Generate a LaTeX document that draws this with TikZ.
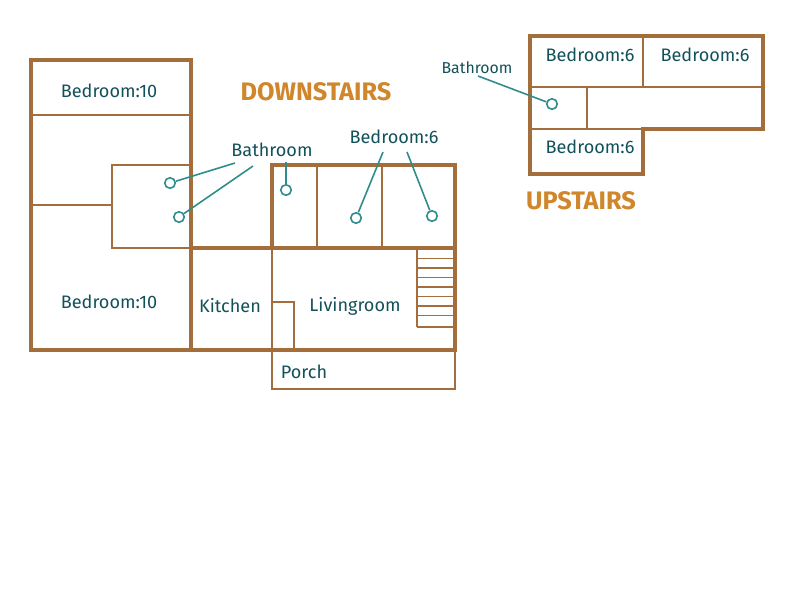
\documentclass[tikz,border=0pt]{standalone}
\usepackage{fontspec}
\setmainfont{Fira Sans}
\definecolor{wall}{HTML}{A46E3C}
\definecolor{ink}{HTML}{12505A}
\definecolor{pin}{HTML}{2E8C8C}
\definecolor{title}{HTML}{D0862A}
\tikzset{thick wall/.style={draw=wall,line width=2.2pt}}
\tikzset{thin wall/.style={draw=wall,line width=1pt}}
\tikzset{room/.style={text=ink,font=\fontsize{10.3}{12}\selectfont}}
\tikzset{dot/.style={draw=pin,circle,fill=white,line width=0.9pt,minimum size=6pt,inner sep=0pt}}
\tikzset{lead/.style={draw=pin,line width=0.9pt}}
\tikzset{floor/.style={text=title,font=\Large\bfseries}}
\begin{document}
\begin{tikzpicture}[x=0.02cm,y=-0.02cm]
        \useasboundingbox (0,0) rectangle (800,600);
        % downstairs walls
        \draw[thin wall] (31,115) -- (191,115);
        \draw[thin wall] (31,205) -- (112,205);
        \draw[thin wall] (112,165) rectangle (191,248);
        \draw[thin wall] (317,165) -- (317,248);
        \draw[thin wall] (382,165) -- (382,248);
        \draw[thin wall] (272,248) -- (272,350);
        \draw[thin wall] (272,302) -- (294,302) -- (294,350);
        \draw[thin wall] (272,350) rectangle (455,389);
        \draw[thin wall] (417,248) -- (417,327);
        \foreach \y in {258.5,268,277.5,287,296.5,306,315.5,327}
          \draw[thin wall] (417,\y) -- (455,\y);
        \draw[thick wall] (31,60) rectangle (191,350);
        \draw[thick wall] (191,248) rectangle (455,350);
        \draw[thick wall] (272,165) rectangle (455,248);
        % upstairs walls
        \draw[thin wall] (643,36) -- (643,87);
        \draw[thin wall] (530,87) -- (763,87);
        \draw[thin wall] (587,87) -- (587,129);
        \draw[thin wall] (530,129) -- (643,129);
        \draw[thick wall] (530,36) -- (763,36) -- (763,129) -- (643,129)
          -- (643,174) -- (530,174) -- cycle;
        % labels
        \node[floor] (down) at (316,92) {DOWNSTAIRS};
        \node[floor] (up) at (581,201) {UPSTAIRS};
        \node[room] (bedA) at (109,91) {Bedroom:10};
        \node[room] (bedB) at (109,302) {Bedroom:10};
        \node[room] (kit) at (230,306) {Kitchen};
        \node[room] (liv) at (355,306) {Livingroom};
        \node[room] (porch) at (304,372) {Porch};
        \node[room] (bath) at (272,150) {Bathroom};
        \node[room] (bedC) at (394,137) {Bedroom:6};
        \node[room] (upA) at (590,55) {Bedroom:6};
        \node[room] (upB) at (705,55) {Bedroom:6};
        \node[room] (upC) at (590,147) {Bedroom:6};
        \node[room,font=\small] (upbath) at (477,68) {Bathroom};
        % pins
        \node[dot] (p1) at (170,183) {};
        \node[dot] (p2) at (179,217) {};
        \node[dot] (p3) at (286,190) {};
        \node[dot] (p4) at (356,218) {};
        \node[dot] (p5) at (432,216) {};
        \node[dot] (p6) at (552,104) {};
        \coordinate (b1) at (235,163);
        \coordinate (b2) at (253,166);
        \coordinate (b3) at (286,162);
        \coordinate (c1) at (383,152);
        \coordinate (c2) at (407,152);
        \coordinate (u1) at (478,76);
        \draw[lead] (b1) -- (p1);
        \draw[lead] (b2) -- (p2);
        \draw[lead] (b3) -- (p3);
        \draw[lead] (c1) -- (p4);
        \draw[lead] (c2) -- (p5);
        \draw[lead] (u1) -- (p6);
\end{tikzpicture}
\end{document}
